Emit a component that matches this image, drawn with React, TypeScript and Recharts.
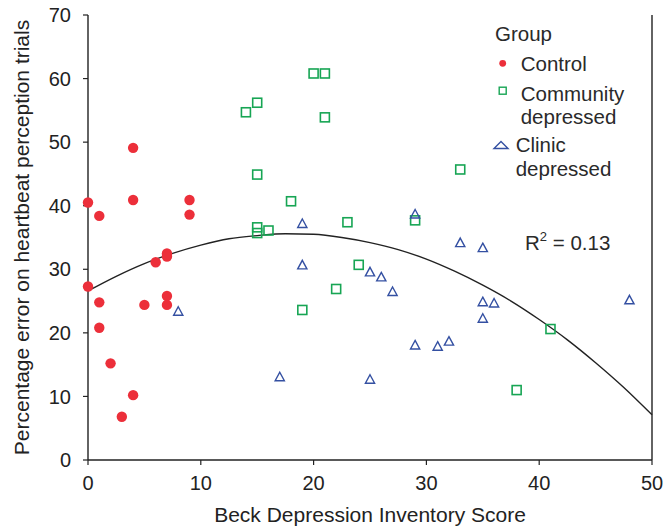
import React from 'react';
import { ScatterChart, Scatter, XAxis, YAxis, ReferenceLine, Legend } from 'recharts';

const FONT = '"Liberation Sans", Arial, Helvetica, sans-serif';
const RED = '#ec2f3a';
const GREEN = '#17a554';
const BLUE = '#3450a2';
const INK = '#222';

// Control group
const controlX = [4, 0, 4, 9, 1, 9, 7, 7, 6, 0, 1, 5, 7, 7, 1, 2, 4, 3];
const controlY = [49.1, 40.5, 40.9, 40.9, 38.4, 38.6, 32.5, 32.0, 31.1, 27.3, 24.8, 24.4, 25.8, 24.4, 20.8, 15.2, 10.2, 6.8];

// Community depressed
const communityX = [20, 21, 15, 14, 21, 15, 33, 18, 29, 23, 15, 15, 16, 24, 22, 19, 41, 38];
const communityY = [60.8, 60.8, 56.2, 54.7, 53.9, 44.9, 45.7, 40.7, 37.7, 37.4, 36.6, 35.7, 36.1, 30.7, 26.9, 23.6, 20.6, 11.0];

// Clinic depressed
const clinicX = [8, 19, 29, 19, 25, 26, 27, 33, 35, 35, 36, 35, 48, 29, 31, 32, 17, 25];
const clinicY = [23.4, 37.2, 38.7, 30.7, 29.6, 28.8, 26.5, 34.2, 33.4, 24.9, 24.7, 22.3, 25.2, 18.1, 17.9, 18.7, 13.1, 12.7];

// Fitted curve
const curveX = [0, 2.5, 5, 7.5, 10, 12.5, 15, 17.5, 20, 22.5, 25, 27.5, 30, 32.5, 35, 37.5, 40, 42.5, 45, 47.5, 50];
const curveY = [26.6, 28.9, 30.9, 32.5, 33.8, 34.8, 35.3, 35.6, 35.5, 35.0, 34.2, 33.1, 31.6, 29.7, 27.5, 25.0, 22.1, 18.9, 15.3, 11.4, 7.1];

const xTicks = [0, 10, 20, 30, 40, 50];
const yTicks = [0, 10, 20, 30, 40, 50, 60, 70];

const zip = (xs: number[], ys: number[]) => xs.map((x, i) => ({ x, y: ys[i] }));
const controlData = zip(controlX, controlY);
const communityData = zip(communityX, communityY);
const clinicData = zip(clinicX, clinicY);
const curveData = zip(curveX, curveY);

const DotShape = (p: any) => <circle cx={p.cx} cy={p.cy} r={5.2} fill={RED} />;
const SquareShape = (p: any) => (
  <rect x={p.cx - 4.5} y={p.cy - 4.5} width={9} height={9} fill="none" stroke={GREEN} strokeWidth={1.6} />
);
const TriShape = (p: any) => (
  <polygon
    points={`${p.cx},${p.cy - 4.5} ${p.cx + 4.6},${p.cy + 4} ${p.cx - 4.6},${p.cy + 4}`}
    fill="none"
    stroke={BLUE}
    strokeWidth={1.4}
    strokeLinejoin="miter"
  />
);
const NoShape = () => <g />;

const LegendContent = () => (
  <svg width={666} height={528} style={{ position: 'absolute', left: 0, top: 0, pointerEvents: 'none' }}>
    <g fontFamily={FONT} fontSize={20.5} fill="#2a2a2a">
      <text x={495} y={41}>Group</text>
      <circle cx={502.7} cy={63.3} r={3.4} fill={RED} />
      <text x={520.7} y={71}>Control</text>
      <rect x={499.2} y={87.2} width={7} height={7} fill="none" stroke={GREEN} strokeWidth={1.4} />
      <text x={520.7} y={100.5}>Community</text>
      <text x={520.7} y={124}>depressed</text>
      <polygon points="501,141.5 508,148.5 494,148.5" fill="none" stroke={BLUE} strokeWidth={1.4} />
      <text x={515.7} y={151.7}>Clinic</text>
      <text x={515.7} y={176}>depressed</text>
    </g>
    <text x={525} y={249.5} fontFamily={FONT} fontSize={20.5} fill="#2a2a2a">
      R<tspan dy={-8.5} fontSize={13}>2</tspan>
      <tspan dy={8.5} fontSize={20.5}> = 0.13</tspan>
    </text>
  </svg>
);

export default function App() {
  return (
    <div style={{ position: 'absolute', left: 0, top: 0, width: 666, height: 528, background: '#fff' }}>
      <ScatterChart width={666} height={528} margin={{ top: 15, right: 14, bottom: 0, left: 18 }}>
        <XAxis
          type="number"
          dataKey="x"
          domain={[0, 50]}
          ticks={xTicks}
          height={68}
          tickSize={5}
          tickMargin={11}
          axisLine={{ stroke: INK, strokeWidth: 1.4 }}
          tickLine={{ stroke: INK, strokeWidth: 1.2 }}
          tick={{ fontSize: 20, fill: INK, fontFamily: FONT }}
          label={{ value: 'Beck Depression Inventory Score', position: 'insideBottom', offset: 6, fontSize: 21, fill: INK, fontFamily: FONT }}
        />
        <YAxis
          type="number"
          dataKey="y"
          domain={[0, 70]}
          ticks={yTicks}
          width={70}
          tickSize={5}
          tickMargin={12}
          axisLine={{ stroke: INK, strokeWidth: 1.4 }}
          tickLine={{ stroke: INK, strokeWidth: 1.2 }}
          tick={{ fontSize: 20, fill: INK, fontFamily: FONT }}
          label={{
            value: 'Percentage error on heartbeat perception trials',
            angle: -90,
            position: 'insideLeft',
            offset: 3.5,
            fontSize: 21,
            fill: INK,
            fontFamily: FONT,
            style: { textAnchor: 'middle' },
          }}
        />
        <ReferenceLine x={50} stroke={INK} strokeWidth={1.4} />
        <Scatter
          name="curve"
          data={curveData}
          shape={NoShape}
          line={{ stroke: INK, strokeWidth: 1.4 }}
          lineJointType="monotoneX"
          legendType="none"
          isAnimationActive={false}
        />
        <Scatter name="Control" data={controlData} shape={DotShape} isAnimationActive={false} />
        <Scatter name="Community depressed" data={communityData} shape={SquareShape} isAnimationActive={false} />
        <Scatter name="Clinic depressed" data={clinicData} shape={TriShape} isAnimationActive={false} />
        <Legend
          layout="vertical"
          align="center"
          verticalAlign="middle"
          content={LegendContent}
          wrapperStyle={{ position: 'absolute', left: 0, top: 0, width: 666, height: 528, pointerEvents: 'none' }}
        />
      </ScatterChart>
    </div>
  );
}
